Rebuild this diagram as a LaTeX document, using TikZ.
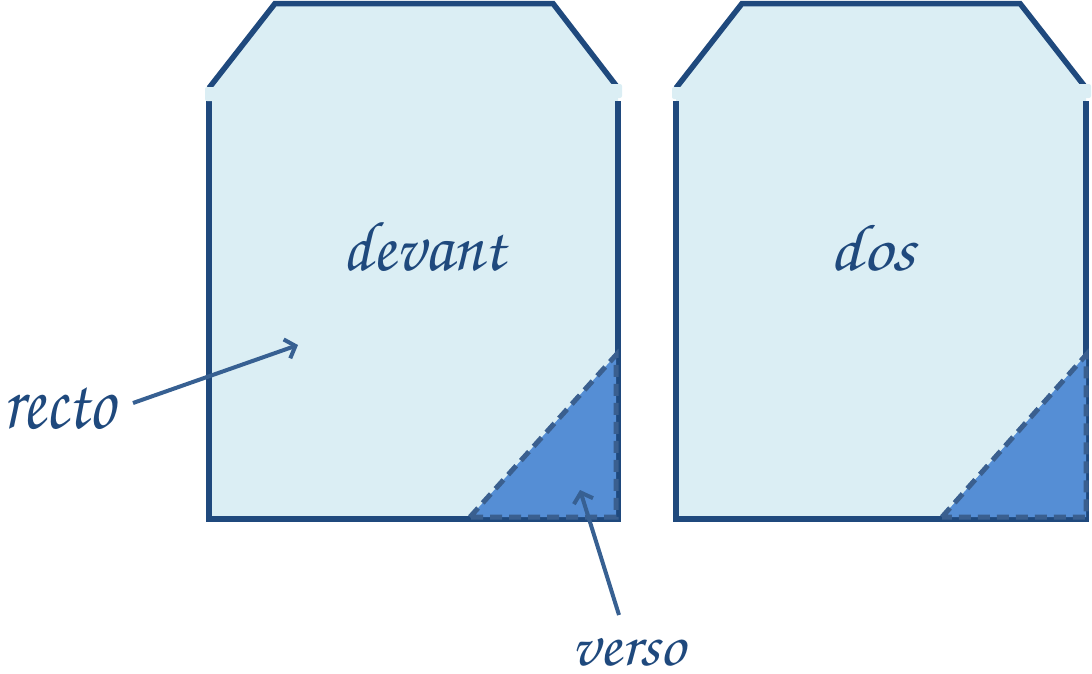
\documentclass[tikz,border=0pt]{standalone}
\usepackage{fontspec}
\usepackage{graphicx}
\newfontfamily\hand{texgyrechorus-mediumitalic.otf}
\usetikzlibrary{arrows.meta}
\definecolor{outl}{HTML}{1F497D}
\definecolor{pale}{HTML}{DBEEF4}
\definecolor{trifill}{HTML}{558ED5}
\definecolor{dashc}{HTML}{3A5F8F}
\definecolor{arrc}{HTML}{376092}
\tikzset{
  pagebody/.style={fill=pale},
  pageedge/.style={draw=outl, line width=5.5pt, line join=miter},
  corner/.style={fill=trifill, draw=dashc, line width=5pt, dash pattern=on 12pt off 7pt},
  patch/.style={fill=pale, rounded corners=2pt},
  label/.style={text=outl, inner sep=0pt, font=\hand},
  pointer/.style={draw=arrc, line width=4pt, -{Straight Barb[length=9pt,width=20pt,line width=4pt]}}
}
\begin{document}
\begin{tikzpicture}[x=1pt,y=-1pt]
\useasboundingbox (0,0) rectangle (1092,673);
% left page
\fill[pagebody] (209,519) -- (209,88) -- (275,3) -- (553,3) -- (618,88) -- (618,519) -- cycle;
\draw[pageedge] (209,101) -- (209,519) -- (618,519) -- (618,101);
\draw[pageedge] (209,88) -- (275,3.5) -- (553,3.5) -- (618,88);
\fill[patch] (205,87) rectangle (220,101);
\fill[patch] (608,84) rectangle (622,98);
\draw[corner] (470,517) -- (616,355) -- (616,517) -- cycle;
% right page
\fill[pagebody] (676,519) -- (676,88) -- (742,3) -- (1020,3) -- (1086,88) -- (1086,519) -- cycle;
\draw[pageedge] (676,101) -- (676,519) -- (1086,519) -- (1086,101);
\draw[pageedge] (676,88) -- (742,3.5) -- (1020,3.5) -- (1086,88);
\fill[patch] (672,87) rectangle (687,99);
\fill[patch] (1077,84) rectangle (1091,98);
\draw[corner] (942,517) -- (1086,355) -- (1086,517) -- cycle;
% labels
\node[label] (devant) at (424,247.5) {\resizebox*{162pt}{49pt}{devant}};
\node[label] (dos) at (872.5,248) {\resizebox*{85pt}{46pt}{dos}};
\node[label] (recto) at (59,409) {\resizebox*{112pt}{42pt}{recto}};
\node[label] (verso) at (628.5,652) {\resizebox*{113pt}{28pt}{verso}};
% pointers
\coordinate (rectotail) at (133,403);
\coordinate (rectotip) at (298,345);
\coordinate (versotail) at (619,615);
\coordinate (versotip) at (580,490);
\draw[pointer] (rectotail) -- (rectotip);
\draw[pointer] (versotail) -- (versotip);
\end{tikzpicture}
\end{document}
